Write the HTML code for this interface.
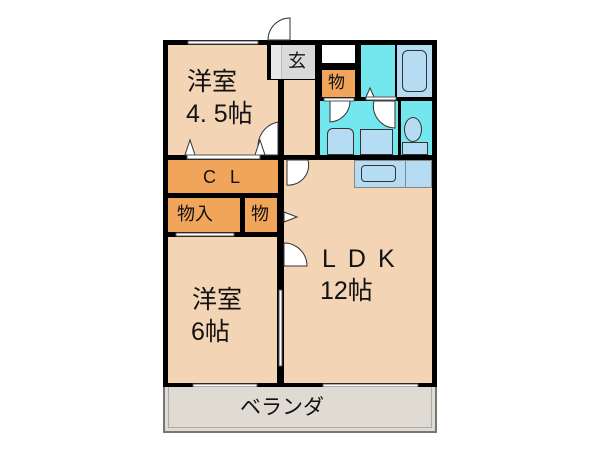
<!DOCTYPE html>
<html><head><meta charset="utf-8"><style>
body{margin:0;width:600px;height:450px;background:#fff;position:relative;overflow:hidden;font-family:"Liberation Sans","Noto Sans CJK JP",sans-serif}
div{position:absolute;box-sizing:border-box}
.t{color:#111;white-space:nowrap;line-height:1}
</style></head><body>
<div style="left:163px;top:40px;width:274px;height:347px;background:#000"></div>
<div style="left:168px;top:45px;width:99px;height:110px;background:#f3d4b4"></div>
<div style="left:267px;top:80px;width:11px;height:75px;background:#f3d4b4"></div>
<div style="left:271px;top:45px;width:44px;height:34px;background:#d9d9d9"></div>
<div style="left:271px;top:45px;width:11px;height:34px;background:#e8e8e8;border-right:1px solid #bbb"></div>
<div class="t" style="left:288px;top:52px;font-size:18px">玄</div>
<div style="left:284px;top:80px;width:31px;height:75px;background:#f3d4b4"></div>
<div style="left:322px;top:45px;width:33px;height:18px;background:#fff"></div>
<div style="left:322px;top:70px;width:33px;height:27px;background:#f0a55a"></div>
<div class="t" style="left:328px;top:74px;font-size:17px">物</div>
<div style="left:361px;top:45px;width:34px;height:52px;background:#74e6ee"></div>
<div style="left:397px;top:45px;width:35px;height:52px;background:#b6dcf4"></div>
<div style="left:402px;top:50px;width:25px;height:42px;border:1.5px solid #333;border-radius:6px;background:#b6dcf4"></div>
<div style="left:320px;top:101px;width:78px;height:54px;background:#74e6ee"></div>
<div style="left:401px;top:101px;width:31px;height:54px;background:#74e6ee"></div>
<div style="left:404px;top:117px;width:18px;height:25px;border:1px solid #333;border-radius:50%;background:#b6dcf4"></div>
<div style="left:402px;top:142px;width:26px;height:13px;border:1px solid #333;background:#b6dcf4"></div>
<div style="left:327px;top:128px;width:27px;height:27px;border:1px solid #333;border-radius:6px 6px 0 0;background:#b6dcf4"></div>
<div style="left:360px;top:129px;width:33px;height:26px;border:1px solid #333;background:#b6dcf4"></div>
<div style="left:168px;top:160px;width:110px;height:33px;background:#f0a55a"></div>
<div class="t" style="left:203px;top:168px;font-size:18px;letter-spacing:14px">CL</div>
<div style="left:168px;top:198px;width:72px;height:34px;background:#f0a55a"></div>
<div class="t" style="left:177px;top:205px;font-size:18px">物入</div>
<div style="left:245px;top:198px;width:32px;height:34px;background:#f0a55a"></div>
<div class="t" style="left:251px;top:205px;font-size:18px">物</div>
<div style="left:168px;top:237px;width:109px;height:146px;background:#f3d4b4"></div>
<div style="left:284px;top:160px;width:148px;height:223px;background:#f3d4b4"></div>
<div style="left:354px;top:160px;width:78px;height:28px;background:#b6dcf4;border:1px solid #888"></div>
<div style="left:405px;top:160px;width:1px;height:28px;background:#888"></div>
<div style="left:361px;top:165px;width:35px;height:17px;border:1px solid #333;border-radius:4px;background:#b6dcf4"></div>
<svg style="position:absolute;left:0;top:0" width="600" height="450">
<g fill="#fff" stroke="#333" stroke-width="1">
<path d="M290,40 L290,18 A22,22 0 0 0 268,40 Z"/>
<path d="M258,155 L278,155 L278,122 A25,25 0 0 0 258,145 Z"/>
<path d="M287,160 L287,185 A20,20 0 0 0 308,160 Z"/>
<path d="M284,243 A23,23 0 0 1 307,266 L284,266 Z"/>
<path d="M330,101 L330,122 A21,21 0 0 0 350,101 Z"/>
<path d="M374,101 L395,101 L395,128 A22,22 0 0 1 374,101 Z"/>
<path d="M185,155 L190,140 L195,155 Z"/>
<path d="M255,155 L260,140 L265,155 Z"/>
<path d="M284,212 L284,222 L297,217 Z"/>
<path d="M366,97 L370,88 L374,97 Z"/>
</g>
<g fill="#fff" stroke="#555" stroke-width="1">
<rect x="188" y="41" width="70" height="3"/>
<rect x="187" y="155" width="73" height="4"/>
<rect x="176" y="233" width="58" height="3"/>
<rect x="193" y="384" width="64" height="3"/>
<rect x="323" y="384" width="95" height="3"/>
<rect x="279" y="290" width="3" height="76"/>
<rect x="366" y="97" width="30" height="3"/>
<rect x="324" y="98" width="30" height="3"/>
</g>
</svg>
<div style="left:163px;top:387px;width:274px;height:46px;background:#e0dbd2;border:2px solid #777;border-top:none"></div>
<div style="left:168px;top:387px;width:264px;height:41px;border:1px solid #aaa;border-top:none"></div>
<div class="t" style="left:240px;top:397px;font-size:21px">ベランダ</div>
<div class="t" style="left:187px;top:70px;font-size:25px">洋室</div>
<div class="t" style="left:186px;top:102px;font-size:25px">4. 5帖</div>
<div class="t" style="left:322px;top:247px;font-size:25px;letter-spacing:12px">LDK</div>
<div class="t" style="left:320px;top:279px;font-size:25px">12帖</div>
<div class="t" style="left:192px;top:288px;font-size:25px">洋室</div>
<div class="t" style="left:191px;top:320px;font-size:25px">6帖</div>
</body></html>
